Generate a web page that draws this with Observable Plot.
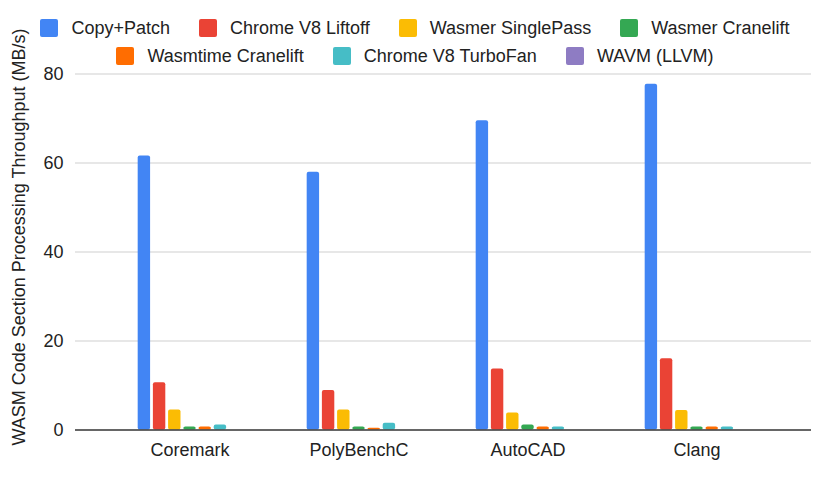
<!DOCTYPE html>
<html>
<head>
<meta charset="utf-8">
<script src="https://cdn.jsdelivr.net/npm/d3@7"></script>
<script src="https://cdn.jsdelivr.net/npm/@observablehq/plot@0.6"></script>
<style>
  html, body { margin: 0; padding: 0; background: #fff; }
  body { width: 830px; height: 481px; overflow: hidden; font-family: "Liberation Sans", Arial, sans-serif; color: #222; }
  #legend { box-sizing: border-box; width: 830px; height: 70px; padding-top: 19px; display: flex; flex-wrap: wrap; justify-content: center; column-gap: 29px; row-gap: 10px; align-content: flex-start; }
  .item { display: flex; align-items: center; height: 18px; font-size: 18px; white-space: nowrap; }
  .sw { width: 18px; height: 18px; border-radius: 2px; margin-right: 13px; }
  #chart { position: relative; width: 830px; height: 411px; }
  #chart svg { position: absolute; left: 0; top: 0; }
</style>
</head>
<body>
<div id="legend"></div>
<div id="chart"></div>
<script>
const groups = ["Coremark", "PolyBenchC", "AutoCAD", "Clang"];
const series = ["Copy+Patch", "Chrome V8 Liftoff", "Wasmer SinglePass", "Wasmer Cranelift", "Wasmtime Cranelift", "Chrome V8 TurboFan", "WAVM (LLVM)"];
const colors = ["#4285F4", "#EA4335", "#FBBC04", "#34A853", "#FF6D01", "#46BDC6", "#8E7CC3"];

const copyPatch        = [61.6, 57.9, 69.5, 77.7];
const chromeLiftoff    = [10.6, 8.9, 13.7, 16.0];
const wasmerSinglePass = [4.5, 4.5, 3.8, 4.4];
const wasmerCranelift  = [0.7, 0.7, 1.1, 0.7];
const wasmtimeCranelift= [0.7, 0.4, 0.7, 0.7];
const chromeTurboFan   = [1.1, 1.5, 0.7, 0.7];
const wavmLLVM         = [0, 0, 0, 0];

const yTicks = [0, 20, 40, 60, 80];
const yLabel = "WASM Code Section Processing Throughput (MB/s)";

const seriesValues = [copyPatch, chromeLiftoff, wasmerSinglePass, wasmerCranelift, wasmtimeCranelift, chromeTurboFan, wavmLLVM];
const table = [];
groups.forEach((g, gi) => series.forEach((s, si) => table.push({group: g, series: s, value: seriesValues[si][gi]})));

// Legend
const legend = document.getElementById("legend");
series.forEach((s, i) => {
  const it = document.createElement("div");
  it.className = "item";
  const sw = document.createElement("span");
  sw.className = "sw";
  sw.style.background = colors[i];
  const tx = document.createElement("span");
  tx.textContent = s;
  it.appendChild(sw); it.appendChild(tx);
  legend.appendChild(it);
});

const W = 830, H = 411, mTop = 3.5, mBottom = 51.5;
const baseStyle = {fontFamily: "'Liberation Sans', Arial, sans-serif", fontSize: "18px", background: "transparent", overflow: "visible", color: "#222"};

// Layer 1: grid, y axis, y label
const base = Plot.plot({
  width: W, height: H, marginLeft: 75, marginRight: 19, marginTop: mTop, marginBottom: mBottom,
  style: baseStyle,
  x: {axis: null},
  y: {domain: [0, 80], ticks: yTicks, tickSize: 0, tickPadding: 12, label: null},
  marks: [
    Plot.ruleY(yTicks.filter(d => d > 0), {stroke: "#cfcfcf", strokeWidth: 1}),
    Plot.text([yLabel], {frameAnchor: "left", textAnchor: "middle", lineAnchor: "middle", rotate: -90, dx: -56, dy: -15, fontSize: 18, fill: "#222"})
  ]
});

// Layer 2: bars
const bars = Plot.plot({
  width: W, height: H, marginLeft: 104.6, marginRight: 49.4, marginTop: mTop, marginBottom: mBottom,
  style: baseStyle,
  fx: {domain: groups, padding: 0, label: null, tickSize: 0, tickPadding: 13, axis: "bottom"},
  x: {domain: series, paddingInner: 0.184, paddingOuter: 2.15, axis: null, round: false},
  y: {domain: [0, 80], axis: null},
  color: {domain: series, range: colors},
  marks: [
    Plot.barY(table, {fx: "group", x: "series", y: "value", fill: "series", rx: 2})
  ]
});

// Layer 3: baseline
const baseline = Plot.plot({
  width: W, height: H, marginLeft: 75, marginRight: 19, marginTop: mTop, marginBottom: mBottom,
  style: baseStyle,
  y: {domain: [0, 80], axis: null},
  marks: [Plot.ruleY([0], {stroke: "#333", strokeWidth: 1.4})]
});

const chart = document.getElementById("chart");
chart.appendChild(base);
chart.appendChild(bars);
chart.appendChild(baseline);
</script>
</body>
</html>
